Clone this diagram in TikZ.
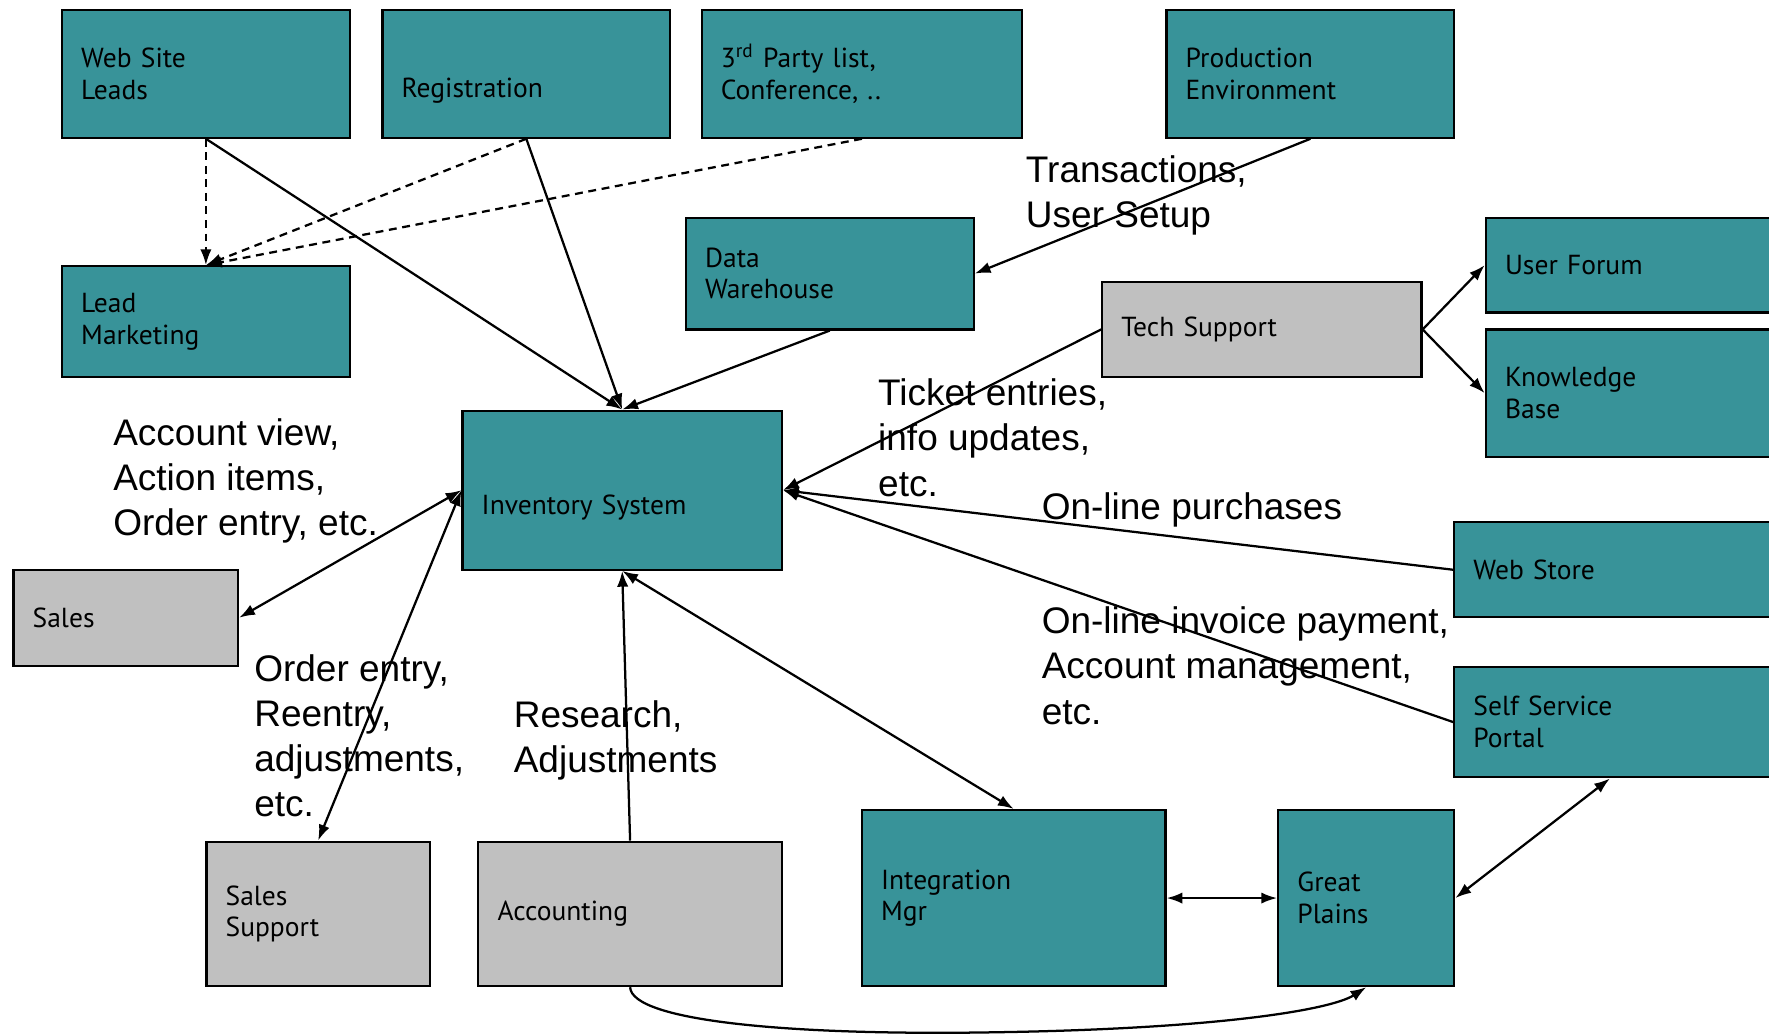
\documentclass[tikz,border=0pt]{standalone}
\usepackage{fontspec}
\setmainfont{Liberation Sans}
\newfontfamily\boxfont{PT Sans}
\usetikzlibrary{arrows.meta}
\definecolor{tealfill}{RGB}{56,147,153}
\definecolor{grayfill}{RGB}{192,192,192}
\begin{document}
\begin{tikzpicture}[
    x=0.5pt, y=-0.5pt,
    >={Latex[length=7pt,width=5pt]},
    every node/.style={font=\boxfont\fontsize{12.2}{14}\selectfont},
    tealbox/.style={
        draw, line width=1pt,
        inner xsep=8.5pt, inner ysep=0pt,
        align=left,
        fill=tealfill
    },
    graybox/.style={tealbox, fill=grayfill},
    flowlbl/.style={font=\fontsize{16.4}{20}\selectfont, anchor=west, align=left, inner sep=0pt},
    flow/.style={->, line width=1pt},
    leadflow/.style={->, line width=1pt, dash pattern=on 3.5pt off 2.5pt}
]

\useasboundingbox (0,0) rectangle (1568,917);

% =========================================================
% Quellen oben
% =========================================================
\node[tealbox, text width=110.5pt, minimum height=56.5pt] (web) at (182.5,65.5) {Web Site\\Leads};
\node[tealbox, text width=110.5pt, minimum height=56.5pt] (reg) at (466.5,65.5) {\strut\\Registration};
\node[tealbox, text width=125pt, minimum height=56.5pt] (third) at (764,65.5) {3\textsuperscript{rd} Party list,\\Conference, ..};
\node[tealbox, text width=110.5pt, minimum height=56.5pt] (prod) at (1161.5,65.5) {Production\\Environment};

\node[tealbox, text width=110.5pt, minimum height=49pt] (lead) at (182.5,285) {Lead\\Marketing};
\node[tealbox, text width=110.5pt, minimum height=49.5pt] (dw) at (735.5,242.5) {Data\\Warehouse};

% =========================================================
% Mitte
% =========================================================
\node[tealbox, text width=124.5pt, minimum height=70.5pt] (inv) at (551.5,434.5) {\strut\\Inventory System};
\node[graybox, text width=124.5pt, minimum height=42pt] (tech) at (1118.5,292) {Tech Support};
\node[tealbox, text width=134.5pt, minimum height=42pt] (forum) at (1468.5,235) {User Forum};
\node[tealbox, text width=134.5pt, minimum height=56.5pt] (kb) at (1468.5,348.5) {Knowledge\\Base};
\node[graybox, text width=82.5pt, minimum height=42.5pt] (sales) at (111.5,547.5) {Sales};
\node[tealbox, text width=148.5pt, minimum height=42pt] (store) at (1454.5,505) {Web Store};
\node[tealbox, text width=148.5pt, minimum height=49pt] (portal) at (1454.5,640) {Self Service\\Portal};

% =========================================================
% Unten
% =========================================================
\node[graybox, text width=82pt, minimum height=64pt] (ssup) at (282,810) {Sales\\Support};
\node[graybox, text width=117.5pt, minimum height=64pt] (acct) at (558.5,810) {Accounting};
\node[tealbox, text width=117.5pt, minimum height=78pt] (integ) at (898.5,796) {Integration\\Mgr};
\node[tealbox, text width=61pt, minimum height=78pt] (gp) at (1211,796) {Great\\Plains};

% =========================================================
% Verbindungen
% =========================================================
\draw[leadflow] (web.south) -- (lead.north);
\draw[leadflow] (reg.south) -- (lead.north);
\draw[leadflow] (third.south) -- (lead.north);

\draw[flow] (web.south) -- (inv.north);
\draw[flow] (reg.south) -- (inv.north);
\draw[flow] (dw.south) -- (inv.north);
\draw[flow] (prod.south) -- (dw.east);

\draw[flow] (tech.west) -- (inv.east);
\draw[flow] (tech.east) -- (forum.west);
\draw[flow] (tech.east) -- (kb.west);
\draw[flow] (store.west) -- (inv.east);
\draw[flow] (portal.west) -- (inv.east);

\draw[<->, line width=1pt] (sales.east) -- (inv.west);
\draw[<->, line width=1pt] (inv.west) -- (ssup.north);
\draw[flow] (acct.north) -- (inv.south);
\draw[<->, line width=1pt] (inv.south) -- (integ.north);
\draw[<->, line width=1pt] (integ.east) -- (gp.west);
\draw[<->, line width=1pt] (gp.east) -- ([xshift=69.5pt]portal.south west);
\draw[flow] (acct.south) .. controls (560,905) and (700,918) .. (880,915)
    .. controls (1080,912) and (1180,895) .. (gp.south);

% =========================================================
% Beschriftungen
% =========================================================
\node[flowlbl] (l-trans) at (909,173) {Transactions,\\User Setup};
\node[flowlbl] (l-acc) at (100,426) {Account view,\\Action items,\\Order entry, etc.};
\node[flowlbl] (l-ticket) at (778,388) {Ticket entries,\\info updates,\\etc.};
\node[flowlbl] (l-buy) at (923,452) {On-line purchases};
\node[flowlbl] (l-pay) at (923,590) {On-line invoice payment,\\Account management,\\etc.};
\node[flowlbl] (l-order) at (225,652) {Order entry,\\Reentry,\\adjustments,\\etc.};
\node[flowlbl] (l-res) at (455,656) {Research,\\Adjustments};

\end{tikzpicture}
\end{document}
